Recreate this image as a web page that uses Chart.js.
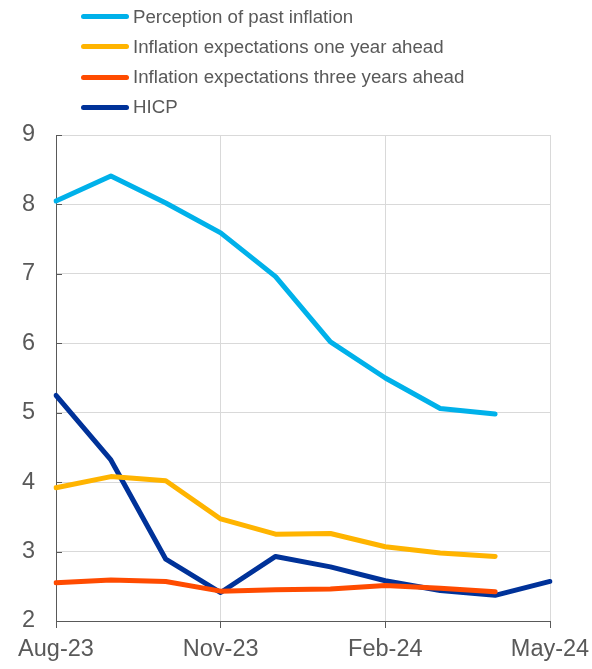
<!DOCTYPE html>
<html>
<head>
<meta charset="utf-8">
<script src="https://cdn.jsdelivr.net/npm/chart.js@4/dist/chart.umd.min.js"></script>
<style>
  html, body { margin: 0; padding: 0; background: #fff; }
  #wrap { position: relative; width: 592px; height: 669px; }
  #legend { position: absolute; left: 0; top: 0; width: 592px; font-family: Arial, "Liberation Sans", sans-serif; font-size: 18.7px; color: #595959; }
  .item { position: absolute; left: 81px; height: 24px; display: flex; align-items: center; }
  .sw { width: 48px; height: 5px; border-radius: 3px; margin-right: 4px; }
  canvas { position: absolute; left: 0; top: 0; }
</style>
</head>
<body>
<div id="wrap">
  <canvas id="c" width="592" height="669"></canvas>
  <div id="legend"></div>
</div>
<script>
const months = ["Aug-23","Sep-23","Oct-23","Nov-23","Dec-23","Jan-24","Feb-24","Mar-24","Apr-24","May-24"];
const seriesNames = ["Perception of past inflation","Inflation expectations one year ahead","Inflation expectations three years ahead","HICP"];
const pastPerception = [8.05, 8.41, 8.02, 7.59, 6.96, 6.02, 5.50, 5.06, 4.98, null];
const expOneYear     = [3.92, 4.08, 4.02, 3.47, 3.25, 3.26, 3.07, 2.98, 2.93, null];
const expThreeYears  = [2.55, 2.59, 2.57, 2.43, 2.45, 2.46, 2.51, 2.47, 2.42, null];
const hicp           = [5.25, 4.32, 2.89, 2.41, 2.93, 2.78, 2.58, 2.44, 2.37, 2.57];
const yTicks = [2, 3, 4, 5, 6, 7, 8, 9];

const colors = ["#00B1EA", "#FFB400", "#FF4B00", "#003299"];
const seriesData = [pastPerception, expOneYear, expThreeYears, hicp];

// HTML legend
const leg = document.getElementById('legend');
const rowCenters = [16.5, 46.5, 77, 107];
seriesNames.forEach((n, i) => {
  const d = document.createElement('div');
  d.className = 'item';
  d.style.top = (rowCenters[i] - 12) + 'px';
  d.innerHTML = '<span class="sw" style="background:' + colors[i] + '"></span><span>' + n + '</span>';
  leg.appendChild(d);
});

const insideTicks = {
  id: 'insideTicks',
  afterDatasetsDraw(chart) {
    const ctx = chart.ctx, y = chart.scales.y, a = chart.chartArea;
    ctx.save();
    ctx.strokeStyle = '#595959';
    ctx.lineWidth = 1;
    yTicks.forEach(v => {
      const py = Math.round(y.getPixelForValue(v)) + 0.5;
      ctx.beginPath();
      ctx.moveTo(a.left, py);
      ctx.lineTo(a.left + 6, py);
      ctx.stroke();
    });
    ctx.restore();
  }
};

new Chart(document.getElementById('c'), {
  type: 'line',
  data: {
    labels: months,
    datasets: seriesNames.map((n, i) => ({
      label: n,
      data: seriesData[i],
      borderColor: colors[i],
      backgroundColor: colors[i],
      borderWidth: 5,
      pointRadius: 0,
      tension: 0,
      borderCapStyle: 'round',
      borderJoinStyle: 'round',
      spanGaps: false
    }))
  },
  options: {
    responsive: false,
    animation: false,
    devicePixelRatio: 1,
    layout: { padding: { left: 0, right: 42, top: 135, bottom: 0 } },
    plugins: { legend: { display: false }, tooltip: { enabled: false } },
    scales: {
      x: {
        offset: false,
        afterFit: s => { s.height = 48; s.paddingRight = 0; s.paddingLeft = 0; },
        grid: {
          color: c => (c.index % 3 === 0 ? '#d9d9d9' : 'rgba(0,0,0,0)'),
          tickColor: c => (c.index % 3 === 0 ? '#595959' : 'rgba(0,0,0,0)'),
          tickLength: 7,
          lineWidth: 1
        },
        border: { color: '#595959', width: 1 },
        ticks: {
          autoSkip: false,
          maxRotation: 0,
          padding: 7,
          color: '#595959',
          font: { family: 'Arial, "Liberation Sans", sans-serif', size: 23.5 },
          callback: function(v, i) { return i % 3 === 0 ? months[i] : ''; }
        }
      },
      y: {
        min: 2, max: 9,
        afterFit: s => { s.width = 56; s.paddingTop = 0; s.paddingBottom = 0; },
        afterBuildTicks: s => { s.ticks = yTicks.map(v => ({ value: v })); },
        grid: { color: '#d9d9d9', lineWidth: 1, drawTicks: false },
        border: { color: '#595959', width: 1 },
        ticks: {
          padding: 21,
          color: '#595959',
          font: { family: 'Arial, "Liberation Sans", sans-serif', size: 23.5 }
        }
      }
    }
  },
  plugins: [insideTicks]
});
</script>
</body>
</html>
